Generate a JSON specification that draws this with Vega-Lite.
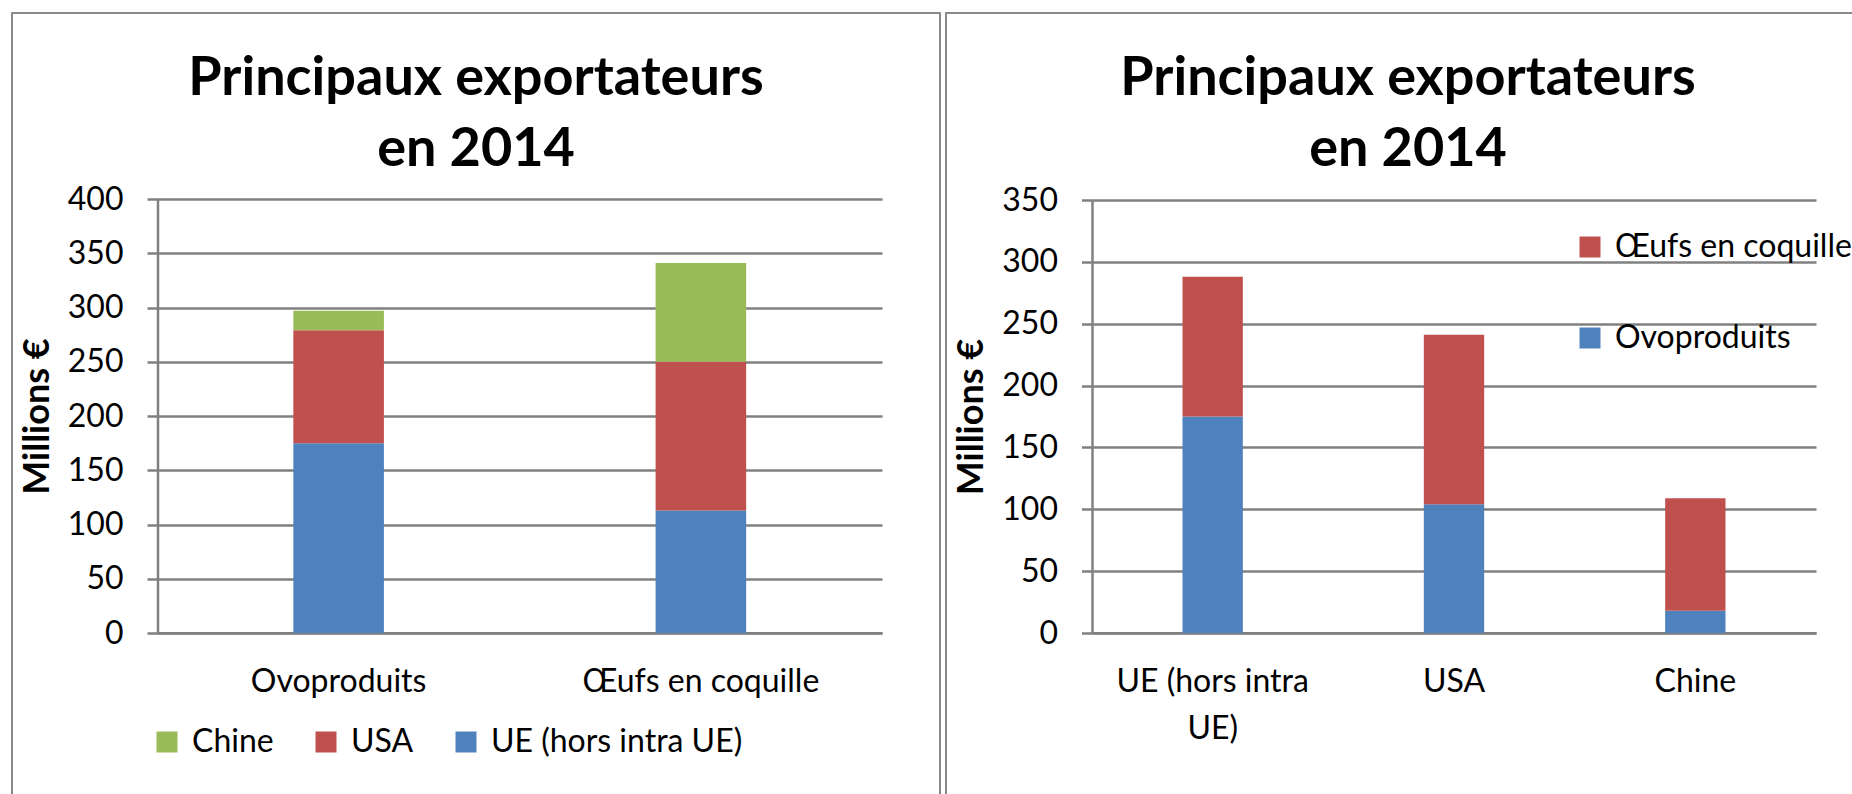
{
  "$schema": "https://vega.github.io/schema/vega-lite/v6.json",
  "background": "white",
  "padding": {"left": 11, "top": 12, "right": 0, "bottom": 0},
  "datasets": {
    "exports": [
      {"produit": "Ovoproduits", "pays": "UE (hors intra UE)", "valeur": 175},
      {"produit": "Ovoproduits", "pays": "USA", "valeur": 104},
      {"produit": "Ovoproduits", "pays": "Chine", "valeur": 18},
      {"produit": "Œufs en coquille", "pays": "UE (hors intra UE)", "valeur": 113},
      {"produit": "Œufs en coquille", "pays": "USA", "valeur": 137},
      {"produit": "Œufs en coquille", "pays": "Chine", "valeur": 91}
    ]
  },
  "spacing": 4,
  "hconcat": [
    {
      "width": 928,
      "height": 800,
      "data": {"name": "exports"},
      "transform": [
        {"joinaggregate": [{"op": "sum", "field": "valeur", "as": "total_pays"}], "groupby": ["pays"]}
      ],
      "title": {"text": ["Principaux exportateurs", "en 2014"], "offset": -164},
      "mark": {"type": "bar"},
      "encoding": {
        "x": {
          "field": "produit", "type": "nominal",
          "sort": ["Ovoproduits", "Œufs en coquille"],
          "scale": {"range": [145.5, 870], "paddingInner": 0.75, "paddingOuter": 0.375},
          "axis": {"title": null, "labelAngle": 0, "offset": -180.3, "ticks": false, "tickSize": 0, "labelPadding": 34}
        },
        "y": {
          "field": "valeur", "type": "quantitative", "stack": "zero",
          "scale": {"domain": [0, 400], "range": [620, 186], "nice": false},
          "axis": {"title": "Millions €", "values": [0, 50, 100, 150, 200, 250, 300, 350, 400], "offset": -145.5, "tickSize": 10.5, "labelPadding": 24, "titlePadding": 11}
        },
        "color": {
          "field": "pays", "type": "nominal",
          "sort": ["Chine", "USA", "UE (hors intra UE)"],
          "scale": {"range": ["#9BBB59", "#C0504D", "#4F81BD"]},
          "legend": {"orient": "none", "legendX": 139, "legendY": 713, "direction": "horizontal", "columnPadding": 36}
        },
        "order": {"field": "total_pays", "type": "quantitative", "sort": "descending"}
      }
    },
    {
      "width": 924,
      "height": 800,
      "data": {"name": "exports"},
      "title": {"text": ["Principaux exportateurs", "en 2014"], "offset": -164},
      "mark": {"type": "bar"},
      "encoding": {
        "x": {
          "field": "pays", "type": "nominal",
          "sort": ["UE (hors intra UE)", "USA", "Chine"],
          "scale": {"range": [146, 870], "paddingInner": 0.75, "paddingOuter": 0.375},
          "axis": {"title": null, "labelAngle": 0, "offset": -180.3, "ticks": false, "tickSize": 0, "labelPadding": 34, "labelLineHeight": 47,
                   "labelExpr": "datum.value == 'UE (hors intra UE)' ? ['UE (hors intra', 'UE)'] : datum.value"}
        },
        "y": {
          "field": "valeur", "type": "quantitative", "stack": "zero",
          "scale": {"domain": [0, 350], "range": [620, 187], "nice": false},
          "axis": {"title": "Millions €", "values": [0, 50, 100, 150, 200, 250, 300, 350], "offset": -146, "tickSize": 10.5, "labelPadding": 24, "titlePadding": 11}
        },
        "color": {
          "field": "produit", "type": "nominal",
          "sort": ["Œufs en coquille", "Ovoproduits"],
          "scale": {"range": ["#C0504D", "#4F81BD"]},
          "legend": {"orient": "none", "legendX": 628, "legendY": 218, "direction": "vertical", "rowPadding": 59}
        },
        "order": {"field": "produit", "type": "nominal", "sort": "ascending"}
      }
    }
  ],
  "resolve": {"scale": {"color": "independent", "x": "independent", "y": "independent"}},
  "config": {
    "font": "Lato",
    "view": {"stroke": "#8a8a8a", "strokeWidth": 2},
    "title": {"font": "Lato", "fontSize": 54, "fontWeight": "bold", "color": "#000000", "lineHeight": 71, "anchor": "middle", "frame": "group", "orient": "top"},
    "axis": {
      "labelFont": "Lato", "labelFontSize": 32, "labelColor": "#000000", "labelLimit": 500,
      "titleFont": "Lato", "titleFontSize": 36, "titleFontWeight": "bold", "titleColor": "#000000",
      "domainColor": "#808080", "domainWidth": 2.5,
      "tickColor": "#808080", "tickWidth": 2.5,
      "gridColor": "#808080", "gridWidth": 2.5, "gridOpacity": 1
    },
    "legend": {
      "title": null, "labelFont": "Lato", "labelFontSize": 32, "labelColor": "#000000", "labelLimit": 500,
      "symbolType": "square", "symbolSize": 441, "symbolStrokeWidth": 0, "symbolOpacity": 1, "labelOffset": 9, "padding": 0
    }
  }
}
